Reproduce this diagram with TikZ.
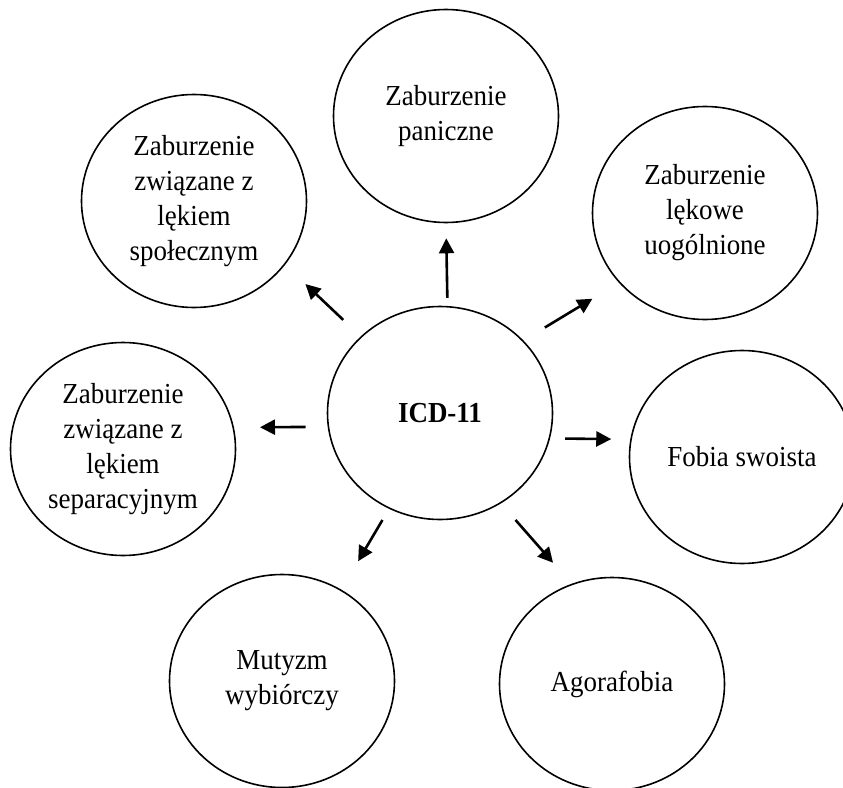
\documentclass[tikz,border=0pt]{standalone}
\usepackage{fontspec}
\setmainfont{Liberation Serif}[FakeStretch=0.93]
\usepackage{tikz}
\usetikzlibrary{shapes.geometric, arrows.meta}

\begin{document}
\begin{tikzpicture}[
    x=1pt, y=-1pt,
    every node/.style={font=\fontsize{29}{35}\selectfont},
    kolo/.style={
        ellipse,
        draw=black,
        line width=1.6pt,
        align=center,
        inner sep=0pt,
        minimum width=225pt,
        minimum height=213pt
    },
    arrow/.style={
        -{Triangle[length=15pt, width=15pt]},
        line width=2.6pt
    }
]
\useasboundingbox (0,0) rectangle (843,787);

% Wezly
\node[kolo] (icd) at (440,413) {\textbf{ICD-11}};

\node[kolo] (paniczne) at (446,116) {Zaburzenie\\paniczne};

\node[kolo] (spoleczny) at (194,201) {Zaburzenie\\związane z\\lękiem\\społecznym};

\node[kolo] (uogolnione) at (705,213) {Zaburzenie\\lękowe\\uogólnione};

\node[kolo] (separacyjny) at (123,449) {Zaburzenie\\związane z\\lękiem\\separacyjnym};

\node[kolo] (fobia) at (742,457) {Fobia swoista};

\node[kolo] (mutyzm) at (282,681) {Mutyzm\\wybiórczy};

\node[kolo] (agorafobia) at (612,684) {Agorafobia};

% Strzalki
\draw[arrow, shorten <=8pt, shorten >=15pt] (icd.86) -- (paniczne.-90);
\draw[arrow, shorten <=24pt, shorten >=28pt] (icd.136) -- (spoleczny.-35);
\draw[arrow, shorten <=25pt, shorten >=31pt] (icd.41) -- (uogolnione.219);

\draw[arrow, shorten <=22pt, shorten >=26pt] (icd.187) -- (separacyjny.11);
\draw[arrow, shorten <=15pt, shorten >=19pt] (icd.-13.5) -- (fobia.171);

\draw[arrow, shorten <=13pt, shorten >=33pt] (icd.242) -- (mutyzm.57);
\draw[arrow, shorten <=22pt, shorten >=28pt] (icd.-56) -- (agorafobia.112);

\end{tikzpicture}
\end{document}
